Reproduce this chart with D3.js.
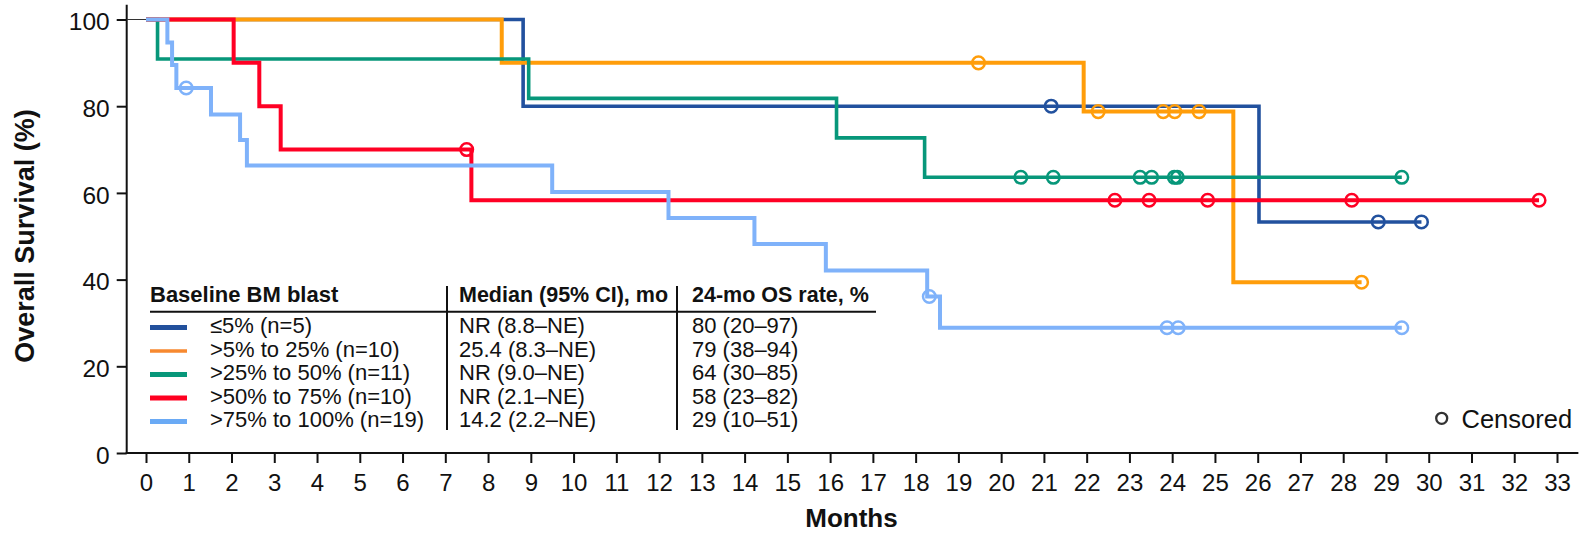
<!DOCTYPE html>
<html>
<head>
<meta charset="utf-8">
<script src="https://cdn.jsdelivr.net/npm/d3@7"></script>
<style>
    body { margin: 0; background: #fff; }
    svg text { font-family: "Liberation Sans", Arial, sans-serif; fill: #111; }
</style>
</head>
<body>
<script>

// kaplan-meier data
var groups = ["≤5% (n=5)", ">5% to 25% (n=10)", ">25% to 50% (n=11)", ">50% to 75% (n=10)", ">75% to 100% (n=19)"];
var medians = ["NR (8.8–NE)", "25.4 (8.3–NE)", "NR (9.0–NE)", "NR (2.1–NE)", "14.2 (2.2–NE)"];
var osRates = ["80 (20–97)", "79 (38–94)", "64 (30–85)", "58 (23–82)", "29 (10–51)"];

// step times (months) and survival (%) after each step, last point = end of follow-up
var stepTimes = [
    [0, 8.82, 26.03, 29.83],
    [0, 8.32, 21.93, 25.43, 28.43],
    [0, 0.27, 8.95, 16.15, 18.21, 29.37],
    [0, 2.05, 2.65, 3.15, 7.61, 32.58],
    [0, 0.5, 0.61, 0.71, 1.52, 2.2, 2.36, 9.5, 12.22, 14.23, 15.9, 18.27, 18.57, 29.37]
];
var stepSurvival = [
    [100, 80, 53.3, 53.3],
    [100, 90, 78.75, 39.4, 39.4],
    [100, 90.9, 81.8, 72.7, 63.6, 63.6],
    [100, 90, 80, 70, 58.3, 58.3],
    [100, 94.7, 89.5, 84.2, 78.1, 72.2, 66.3, 60.2, 54.2, 48.2, 42.1, 36.1, 28.9, 28.9]
];
var censorTimes = [
    [21.17, 28.82, 29.83],
    [19.47, 22.27, 23.79, 24.06, 24.63, 28.43],
    [20.46, 21.22, 23.25, 23.52, 24.05, 24.12, 29.37],
    [7.5, 22.66, 23.46, 24.83, 28.2, 32.58],
    [0.94, 18.32, 23.88, 24.14, 29.37]
];

var monthTicks = [0, 1, 2, 3, 4, 5, 6, 7, 8, 9, 10, 11, 12, 13, 14, 15, 16, 17, 18, 19, 20,
                  21, 22, 23, 24, 25, 26, 27, 28, 29, 30, 31, 32, 33];
var survivalTicks = [0, 20, 40, 60, 80, 100];

var colors = ["#22519e", "#ff9d0a", "#07977a", "#ff0024", "#7fb2fa"];
var swatchColors = ["#22509c", "#f7892f", "#07977a", "#ff0020", "#6aaaf5"];

window.onload = function() {
    drawChart();
};

function survivalAt(g, t) {
    // value of the step function of group g at time t
    var s = stepSurvival[g][0];
    stepTimes[g].forEach(function(st, i) {
        if (st <= t) s = stepSurvival[g][i];
    });
    return s;
}

function drawChart() {
    var totalWidth = 1591,
        totalHeight = 533;

    var svg = d3.select("body").append("svg")
        .attr("width", totalWidth)
        .attr("height", totalHeight);

    var x = d3.scaleLinear().domain([0, 33]).range([146, 1557]);
    var y = d3.scaleLinear().domain([0, 100]).range([453, 19.5]);

    var axisX = 126.7;

    // x axis
    var xAxis = d3.axisBottom(x)
        .tickValues(monthTicks)
        .tickSize(10)
        .tickPadding(11)
        .tickSizeOuter(0);
    var gx = svg.append("g")
        .attr("transform", "translate(0," + y(0) + ")")
        .call(xAxis);
    gx.select(".domain").remove();
    gx.selectAll(".tick line").attr("stroke", "#111").attr("stroke-width", 2);
    gx.selectAll(".tick text").style("font-size", "24px").attr("fill", "#111");

    // y axis
    var yAxis = d3.axisLeft(y)
        .tickValues(survivalTicks)
        .tickSize(10)
        .tickPadding(7)
        .tickSizeOuter(0);
    var gy = svg.append("g")
        .attr("transform", "translate(" + axisX + ",0)")
        .call(yAxis);
    gy.select(".domain").remove();
    gy.selectAll(".tick line").attr("stroke", "#111").attr("stroke-width", 2);
    gy.selectAll(".tick text").style("font-size", "24.5px").attr("fill", "#111").attr("dy", "0.42em");

    // axis lines
    svg.append("line")
        .attr("x1", axisX).attr("x2", axisX)
        .attr("y1", y(103.4)).attr("y2", y(0) + 1)
        .attr("stroke", "#111").attr("stroke-width", 2);
    svg.append("line")
        .attr("x1", axisX - 1).attr("x2", x(33.5))
        .attr("y1", y(0)).attr("y2", y(0))
        .attr("stroke", "#111").attr("stroke-width", 2);

    // thin start line at 100%
    svg.append("line")
        .attr("x1", axisX).attr("x2", x(0))
        .attr("y1", y(100)).attr("y2", y(100))
        .attr("stroke", "#333").attr("stroke-width", 1);

    // axis titles
    svg.append("text")
        .attr("transform", "translate(34," + 236 + ") rotate(-90)")
        .attr("text-anchor", "middle")
        .style("font-size", "27px")
        .style("font-weight", "bold")
        .text("Overall Survival (%)");

    svg.append("text")
        .attr("x", (x(0) + x(33)) / 2)
        .attr("y", 527)
        .attr("text-anchor", "middle")
        .style("font-size", "26px")
        .style("font-weight", "bold")
        .text("Months");

    // curves
    var line = d3.line()
        .x(function(d) { return x(d[0]); })
        .y(function(d) { return y(d[1]); })
        .curve(d3.curveStepAfter);

    groups.forEach(function(name, g) {
        var pts = stepTimes[g].map(function(t, i) { return [t, stepSurvival[g][i]]; });
        svg.append("path")
            .datum(pts)
            .attr("d", line)
            .attr("fill", "none")
            .attr("stroke", colors[g])
            .attr("stroke-width", g == 0 || g == 2 ? 3.6 : 4);

        svg.selectAll(".cens" + g)
            .data(censorTimes[g]).enter()
            .append("circle")
            .attr("class", "cens" + g)
            .attr("cx", function(d) { return x(d); })
            .attr("cy", function(d) { return y(survivalAt(g, d)); })
            .attr("r", 6.3)
            .attr("fill", "none")
            .attr("stroke", colors[g])
            .attr("stroke-width", 2.5);
    });

    // legend table
    var colX = [150, 459, 692],
        headY = 302,
        rowY0 = 333,
        rowStep = 23.5;

    var heads = ["Baseline BM blast", "Median (95% CI), mo", "24-mo OS rate, %"];
    svg.selectAll(".head")
        .data(heads).enter()
        .append("text")
        .attr("class", "head")
        .attr("x", function(d, i) { return colX[i]; })
        .attr("y", headY)
        .style("font-size", function(d, i) { return i == 0 ? "22px" : "21.5px"; })
        .style("font-weight", "bold")
        .text(function(d) { return d; });

    svg.append("line")
        .attr("x1", 150).attr("x2", 876)
        .attr("y1", 311.7).attr("y2", 311.7)
        .attr("stroke", "#111").attr("stroke-width", 2);
    [447, 677].forEach(function(vx) {
        svg.append("line")
            .attr("x1", vx).attr("x2", vx)
            .attr("y1", 286).attr("y2", 430)
            .attr("stroke", "#111").attr("stroke-width", 2);
    });

    var rows = svg.selectAll(".row")
        .data(groups).enter()
        .append("g")
        .attr("class", "row")
        .attr("transform", function(d, i) { return "translate(0," + (rowY0 + i * rowStep) + ")"; });

    rows.append("line")
        .attr("x1", 150).attr("x2", 187)
        .attr("y1", -5.5).attr("y2", -5.5)
        .attr("stroke", function(d, i) { return swatchColors[i]; })
        .attr("stroke-width", function(d, i) { return i == 1 ? 3.5 : 5; });

    rows.append("text")
        .attr("x", 210)
        .style("font-size", "22px")
        .text(function(d) { return d; });
    rows.append("text")
        .attr("x", colX[1])
        .style("font-size", "22px")
        .text(function(d, i) { return medians[i]; });
    rows.append("text")
        .attr("x", colX[2])
        .style("font-size", "22px")
        .text(function(d, i) { return osRates[i]; });

    // censored key
    svg.append("circle")
        .attr("cx", 1441.7).attr("cy", 418.3)
        .attr("r", 5.5)
        .attr("fill", "none")
        .attr("stroke", "#333")
        .attr("stroke-width", 2.3);
    svg.append("text")
        .attr("x", 1461.5).attr("y", 428)
        .style("font-size", "25.5px")
        .text("Censored");
}
</script>
</body>
</html>
